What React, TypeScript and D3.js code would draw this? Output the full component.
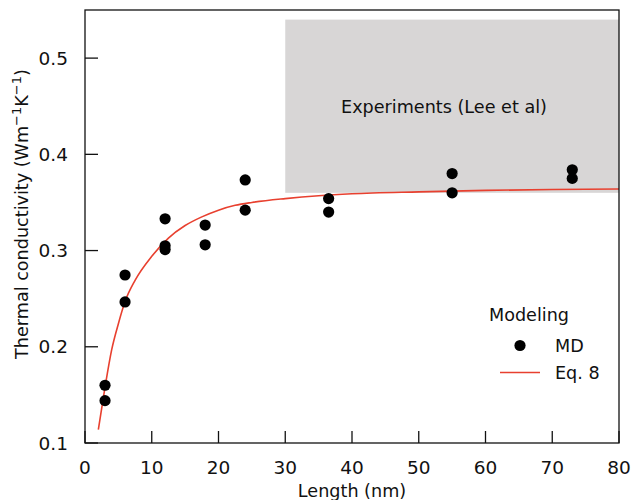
import React from 'react';
import * as d3 from 'd3';

const width = 632;
const height = 500;
const margin = {top: 10, right: 13, bottom: 57, left: 85};
const red = '#e8402f';
const grey = '#d8d6d6';
const font = 'DejaVu Sans';

// MD simulation points
const mdLength = [3, 3, 6, 6, 12, 12, 12, 18, 18, 24, 24, 36.5, 36.5, 55, 55, 73, 73];
const mdValue = [0.160, 0.144, 0.2746, 0.2466, 0.333, 0.305, 0.301, 0.3265, 0.306, 0.3734, 0.342, 0.354, 0.340, 0.380, 0.360, 0.384, 0.375];

// Eq. 8 curve
const eqLength = [2, 3, 4, 5, 6, 7.5, 10, 12.5, 15, 17.5, 20, 22.5, 25, 30, 35, 40, 50, 60, 70, 80];
const eqValue = [0.114, 0.158, 0.197, 0.224, 0.247, 0.269, 0.294, 0.313, 0.326, 0.335, 0.342, 0.347, 0.350, 0.354, 0.357, 0.359, 0.361, 0.3625, 0.3635, 0.364];

// experimental range (Lee et al)
const expLength = [30, 80];
const expRange = [0.36, 0.54];

const xTicks = [0, 10, 20, 30, 40, 50, 60, 70, 80];
const yTicks = [0.1, 0.2, 0.3, 0.4, 0.5];

export default function App() {
    const xScale = d3.scaleLinear().domain([0, 80]).range([margin.left, width - margin.right]);
    const yScale = d3.scaleLinear().domain([0.1, 0.55]).range([height - margin.bottom, margin.top]);
    const line = d3.line<number>()
        .x((d, i) => xScale(eqLength[i]))
        .y(d => yScale(d))
        .curve(d3.curveMonotoneX);

    const x0 = margin.left;
    const x1 = width - margin.right;
    const y0 = height - margin.bottom;
    const y1 = margin.top;

    return (
        <svg width={width} height={height} style={{position: 'absolute', left: 0, top: 0}} fontFamily={font}>
            <rect x={0} y={0} width={width} height={height} fill='white'/>
            <rect x={xScale(expLength[0])} y={yScale(expRange[1])}
                  width={xScale(expLength[1]) - xScale(expLength[0])}
                  height={yScale(expRange[0]) - yScale(expRange[1])} fill={grey}/>
            <text x={444} y={113} fontSize={17.6} textAnchor='middle' fill='#111'>Experiments (Lee et al)</text>

            <path d={line(eqValue) || ''} fill='none' stroke={red} strokeWidth={1.6}/>
            {mdValue.map((v, i) => (
                <circle key={i} cx={xScale(mdLength[i])} cy={yScale(v)} r={5.6} fill='black'/>
            ))}

            {/* frame */}
            <rect x={x0} y={y1} width={x1 - x0} height={y0 - y1} fill='none' stroke='#111' strokeWidth={1.3}/>

            {xTicks.map(t => (
                <g key={t}>
                    <line x1={xScale(t)} x2={xScale(t)} y1={y0} y2={y0 - 12} stroke='#111' strokeWidth={1.3}/>
                    <text x={xScale(t)} y={474} fontSize={18.5} textAnchor='middle' fill='#111'>{t}</text>
                </g>
            ))}
            {yTicks.map(t => (
                <g key={t}>
                    <line x1={x0} x2={x0 + 13} y1={yScale(t)} y2={yScale(t)} stroke='#111' strokeWidth={1.3}/>
                    <text x={68} y={yScale(t) + 6.7} fontSize={18.5} textAnchor='end' fill='#111'>{t.toFixed(1)}</text>
                </g>
            ))}

            <text x={(x0 + x1) / 2} y={497} fontSize={17.6} textAnchor='middle' fill='#111'>Length (nm)</text>
            <text transform={`translate(28,214) rotate(-90)`} fontSize={17.6} textAnchor='middle' fill='#111'>
                Thermal conductivity (Wm<tspan dy={-7} fontSize={13}>−1</tspan><tspan dy={7}>K</tspan><tspan dy={-7} fontSize={13}>−1</tspan><tspan dy={7}>)</tspan>
            </text>

            {/* legend */}
            <text x={489} y={321} fontSize={17.6} fill='#111'>Modeling</text>
            <circle cx={520} cy={345.5} r={5.6} fill='black'/>
            <text x={555} y={352} fontSize={17.6} fill='#111'>MD</text>
            <line x1={500} x2={540} y1={372.5} y2={372.5} stroke={red} strokeWidth={1.6}/>
            <text x={555} y={379} fontSize={17.6} fill='#111'>Eq. 8</text>
        </svg>
    );
}
